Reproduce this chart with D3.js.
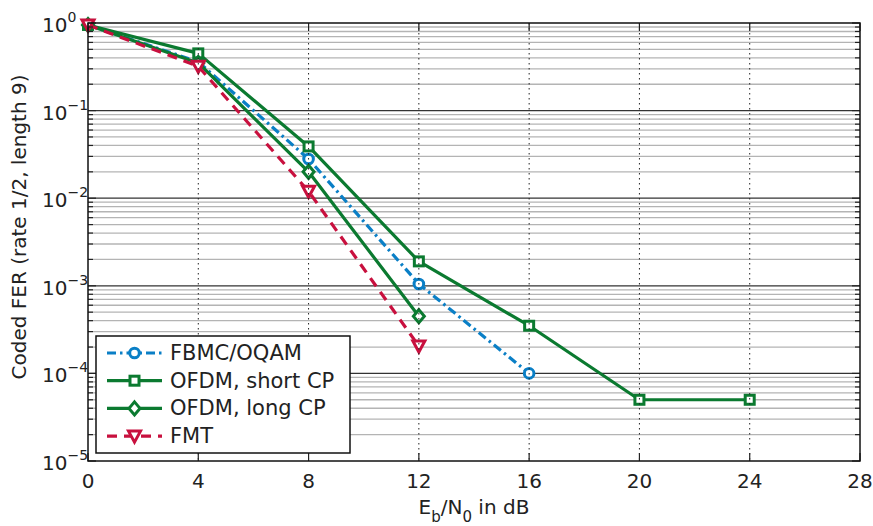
<!DOCTYPE html>
<html>
<head>
<meta charset="utf-8">
<script src="https://cdn.jsdelivr.net/npm/d3@7"></script>
<style>
  html, body { margin: 0; padding: 0; background: #fff; }
  svg { display: block; }
  text { font-family: "DejaVu Sans", sans-serif; fill: #222; }
</style>
</head>
<body>
<svg id="chart" width="873" height="526"></svg>
<script>
// Eb/N0 points (dB) and coded frame error rates per scheme
const snrFBMC = [0, 4, 8, 12, 16];
const ferFBMC = [0.95, 0.36, 0.028, 1.05e-3, 1.0e-4];

const snrOFDMShort = [0, 4, 8, 12, 16, 20, 24];
const ferOFDMShort = [0.95, 0.45, 0.039, 1.9e-3, 3.5e-4, 5e-5, 5e-5];

const snrOFDMLong = [0, 4, 8, 12];
const ferOFDMLong = [0.95, 0.35, 0.020, 4.5e-4];

const snrFMT = [0, 4, 8, 12];
const ferFMT = [0.95, 0.32, 0.012, 2.05e-4];

const seriesNames = ["FBMC/OQAM", "OFDM, short CP", "OFDM, long CP", "FMT"];
const xTicks = [0, 4, 8, 12, 16, 20, 24, 28];
const yExponents = [0, -1, -2, -3, -4, -5];

const svg = d3.select("#chart");
const plotL = 88, plotR = 860, plotT = 23, plotB = 461;

const x = d3.scaleLinear().domain([0, 28]).range([plotL, plotR]);
const y = d3.scaleLog().domain([1e-5, 1]).range([plotB, plotT]);

const blue = "#0a7fc6", green = "#0b7a30", red = "#c8103e";

const series = [
  { name: seriesNames[0], xs: snrFBMC, ys: ferFBMC, color: blue, dash: "9,4,2.5,4", marker: "circle" },
  { name: seriesNames[1], xs: snrOFDMShort, ys: ferOFDMShort, color: green, dash: null, marker: "square" },
  { name: seriesNames[2], xs: snrOFDMLong, ys: ferOFDMLong, color: green, dash: null, marker: "diamond" },
  { name: seriesNames[3], xs: snrFMT, ys: ferFMT, color: red, dash: "10,7", marker: "triangle" }
];

// horizontal grid: minor (2..9 per decade) and decades
const g = svg.append("g");
const minorVals = [];
for (let k = -5; k < 0; k++) for (let m = 2; m <= 9; m++) minorVals.push(m * Math.pow(10, k));
g.selectAll(".hminor").data(minorVals).enter().append("line")
  .attr("x1", plotL).attr("x2", plotR)
  .attr("y1", d => y(d)).attr("y2", d => y(d))
  .attr("stroke", "#b4b4b4").attr("stroke-width", 1.3);
g.selectAll(".hmajor").data(yExponents.slice(1, 5).map(e => Math.pow(10, e))).enter().append("line")
  .attr("x1", plotL).attr("x2", plotR)
  .attr("y1", d => y(d)).attr("y2", d => y(d))
  .attr("stroke", "#333").attr("stroke-width", 1.2);

// marker drawing
function drawMarker(sel, type, color) {
  let shape;
  if (type === "circle") {
    shape = sel.append("circle").attr("r", 4.8);
  } else if (type === "square") {
    shape = sel.append("rect").attr("x", -4.5).attr("y", -4.5).attr("width", 9).attr("height", 9);
  } else if (type === "diamond") {
    shape = sel.append("path").attr("d", "M0,-6.5L5.5,0L0,6.5L-5.5,0Z");
  } else {
    shape = sel.append("path").attr("d", "M-6,-5L6,-5L0,6Z");
  }
  shape.attr("fill", "#fff").attr("stroke", color).attr("stroke-width", 3);
}

const line = d3.line().x(d => x(d[0])).y(d => y(d[1]));

const dataLayer = svg.append("g");
series.forEach(s => {
  const pts = s.xs.map((v, i) => [v, s.ys[i]]);
  const p = dataLayer.append("path").datum(pts).attr("d", line)
    .attr("fill", "none").attr("stroke", s.color).attr("stroke-width", 3.2)
    .attr("stroke-linejoin", "round");
  if (s.dash) p.attr("stroke-dasharray", s.dash);
  pts.forEach(d => {
    const m = dataLayer.append("g").attr("transform", `translate(${x(d[0])},${y(d[1])})`);
    drawMarker(m, s.marker, s.color);
  });
});

// vertical dotted grid at x ticks, drawn above the data
svg.append("g").selectAll("line").data(xTicks.slice(1, -1)).enter().append("line")
  .attr("x1", d => x(d)).attr("x2", d => x(d))
  .attr("y1", plotT).attr("y2", plotB)
  .attr("stroke", "#222").attr("stroke-width", 1).attr("stroke-dasharray", "1.5,3.5");

// tick marks (inside, on all four sides)
const tk = svg.append("g").attr("stroke", "#222").attr("stroke-width", 1.2);
xTicks.forEach(v => {
  tk.append("line").attr("x1", x(v)).attr("x2", x(v)).attr("y1", plotB).attr("y2", plotB - 8);
  tk.append("line").attr("x1", x(v)).attr("x2", x(v)).attr("y1", plotT).attr("y2", plotT + 8);
});
yExponents.forEach(e => {
  const v = Math.pow(10, e);
  tk.append("line").attr("x1", plotL).attr("x2", plotL + 8).attr("y1", y(v)).attr("y2", y(v));
  tk.append("line").attr("x1", plotR).attr("x2", plotR - 8).attr("y1", y(v)).attr("y2", y(v));
});
minorVals.forEach(v => {
  tk.append("line").attr("x1", plotL).attr("x2", plotL + 5).attr("y1", y(v)).attr("y2", y(v));
  tk.append("line").attr("x1", plotR).attr("x2", plotR - 5).attr("y1", y(v)).attr("y2", y(v));
});

// frame
svg.append("rect").attr("x", plotL).attr("y", plotT)
  .attr("width", plotR - plotL).attr("height", plotB - plotT)
  .attr("fill", "none").attr("stroke", "#111").attr("stroke-width", 1.5);

// tick labels
svg.append("g").selectAll("text").data(xTicks).enter().append("text")
  .attr("x", d => x(d)).attr("y", plotB + 27)
  .attr("text-anchor", "middle").attr("font-size", 20)
  .text(d => d);

const yl = svg.append("g").selectAll("text").data(yExponents).enter().append("text")
  .attr("x", 42).attr("y", d => y(Math.pow(10, d)) + 9)
  .attr("font-size", 20);
yl.append("tspan").text("10");
yl.append("tspan").attr("dy", -10).attr("font-size", 14)
  .text(d => d === 0 ? "0" : "\u2212" + Math.abs(d));

// axis titles
const xt = svg.append("text").attr("x", (plotL + plotR) / 2).attr("y", 514)
  .attr("text-anchor", "middle").attr("font-size", 20);
xt.append("tspan").text("E");
xt.append("tspan").attr("dy", 8).attr("font-size", 15).text("b");
xt.append("tspan").attr("dy", -8).text("/N");
xt.append("tspan").attr("dy", 8).attr("font-size", 15).text("0");
xt.append("tspan").attr("dy", -8).text(" in dB");

svg.append("text")
  .attr("transform", `translate(26, 227) rotate(-90)`)
  .attr("text-anchor", "middle").attr("font-size", 20)
  .text("Coded FER (rate 1/2, length 9)");

// legend
const lg = svg.append("g");
lg.append("rect").attr("x", 96).attr("y", 336).attr("width", 254).attr("height", 117)
  .attr("fill", "#fff").attr("stroke", "#111").attr("stroke-width", 1.5);
series.forEach((s, i) => {
  const cy = 353 + i * 27.7;
  const l = lg.append("line").attr("x1", 107).attr("x2", 162).attr("y1", cy).attr("y2", cy)
    .attr("stroke", s.color).attr("stroke-width", 3.2);
  if (s.dash) l.attr("stroke-dasharray", s.dash);
  const m = lg.append("g").attr("transform", `translate(134.5,${cy})`);
  drawMarker(m, s.marker, s.color);
  lg.append("text").attr("x", 170).attr("y", cy + 7).attr("font-size", 21).text(s.name);
});
</script>
</body>
</html>
